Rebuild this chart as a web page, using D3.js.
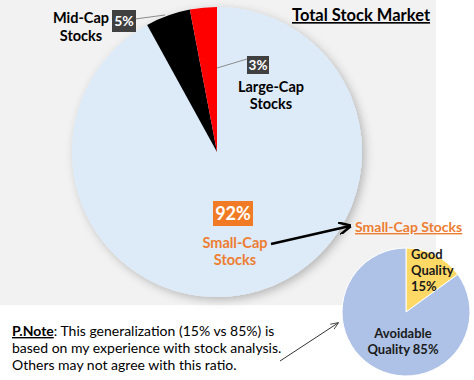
<!DOCTYPE html>
<html>
<head>
<meta charset="utf-8">
<script src="https://cdn.jsdelivr.net/npm/d3@7"></script>
<style>
  body { margin: 0; background: #fff; }
  svg { display: block; font-family: Lato, "Open Sans", sans-serif; }
</style>
</head>
<body>
<svg width="474" height="380"></svg>
<script>
// total market split
var capNames = ["Small-Cap", "Mid-Cap", "Large-Cap"]
var capValues = [92, 5, 3]
var capColors = ["#ddeaf7", "#000000", "#ff0000"]

// quality split inside small caps
var qualityNames = ["Good Quality", "Avoidable Quality"]
var qualityValues = [15, 85]
var qualityColors = ["#ffd966", "#adc2e6"]

var noteLines = [
    ": This generalization (15% vs 85%) is",
    "based on my experience with stock analysis.",
    "Others may not agree with this ratio."
]

var svg = d3.select("svg")
var defs = svg.append("defs")

defs.append("filter").attr("id", "shadow")
    .attr("x", "-20%").attr("y", "-20%").attr("width", "140%").attr("height", "140%")
    .append("feDropShadow")
    .attr("dx", 3).attr("dy", 3).attr("stdDeviation", 5)
    .attr("flood-color", "#000").attr("flood-opacity", 0.25)

defs.append("marker").attr("id", "head")
    .attr("viewBox", "0 0 10 10").attr("refX", 9).attr("refY", 5)
    .attr("markerWidth", 5).attr("markerHeight", 5)
    .attr("orient", "auto")
    .append("path").attr("d", "M0,0 L10,5 L0,10").attr("fill", "none")
    .attr("stroke", "#000").attr("stroke-width", 2)

defs.append("marker").attr("id", "thin")
    .attr("viewBox", "0 0 10 10").attr("refX", 9).attr("refY", 5)
    .attr("markerWidth", 8).attr("markerHeight", 8)
    .attr("orient", "auto")
    .append("path").attr("d", "M0,1 L10,5 L0,9").attr("fill", "none")
    .attr("stroke", "#333").attr("stroke-width", 1)

// grey panel behind the big pie
svg.append("rect").attr("x", 0).attr("y", 0).attr("width", 436).attr("height", 305)
    .attr("fill", "#f2f2f2")

var pie = d3.pie().sort(null).value(d => d)

// big pie
var bigR = 145
var big = svg.append("g").attr("transform", "translate(217,152)")
var bigArc = d3.arc().innerRadius(0).outerRadius(bigR)
big.append("circle").attr("r", bigR).attr("fill", "#ddeaf7").attr("filter", "url(#shadow)")
big.selectAll("path.slice")
    .data(pie(capValues))
    .enter()
    .append("path")
    .attr("class", "slice")
    .attr("d", bigArc)
    .attr("fill", (d, i) => capColors[i])

// title
svg.append("text").attr("x", 361).attr("y", 21).attr("text-anchor", "middle")
    .attr("font-size", 16.5).attr("font-weight", "bold").attr("text-decoration", "underline")
    .attr("fill", "#000").text("Total Stock Market")

function valueBox(x, y, w, h, fill, txt, size) {
    svg.append("rect").attr("x", x).attr("y", y).attr("width", w).attr("height", h).attr("fill", fill)
    svg.append("text").attr("x", x + w / 2).attr("y", y + h / 2).attr("dy", "0.36em")
        .attr("text-anchor", "middle").attr("font-size", size).attr("font-weight", "bold")
        .attr("fill", "#fff").text(txt)
}

var labelSize = 14.5

// mid-cap label
svg.append("line").attr("x1", 135).attr("y1", 19).attr("x2", 165).attr("y2", 15)
    .attr("stroke", "#8c8c8c").attr("stroke-width", 1)
valueBox(112, 10, 24, 22, "#404040", capValues[1] + "%", 14)
svg.append("text").attr("x", 81).attr("y", 23).attr("text-anchor", "middle")
    .attr("font-size", labelSize).attr("font-weight", "bold").text(capNames[1])
svg.append("text").attr("x", 81).attr("y", 41).attr("text-anchor", "middle")
    .attr("font-size", labelSize).attr("font-weight", "bold").text("Stocks")

// large-cap label
svg.append("line").attr("x1", 217).attr("y1", 68).attr("x2", 247).attr("y2", 59)
    .attr("stroke", "#8c8c8c").attr("stroke-width", 1)
valueBox(247, 56, 22, 18, "#404040", capValues[2] + "%", 13.5)
svg.append("text").attr("x", 271).attr("y", 92).attr("text-anchor", "middle")
    .attr("font-size", labelSize).attr("font-weight", "bold").text(capNames[2])
svg.append("text").attr("x", 271).attr("y", 109).attr("text-anchor", "middle")
    .attr("font-size", labelSize).attr("font-weight", "bold").text("Stocks")

// small-cap label
valueBox(213, 201, 40, 25, "#f07b24", capValues[0] + "%", 18)
svg.append("text").attr("x", 235).attr("y", 248).attr("text-anchor", "middle")
    .attr("font-size", labelSize).attr("font-weight", "bold").attr("fill", "#ed7d31").text(capNames[0])
svg.append("text").attr("x", 235).attr("y", 265).attr("text-anchor", "middle")
    .attr("font-size", labelSize).attr("font-weight", "bold").attr("fill", "#ed7d31").text("Stocks")

// arrow to the zoomed pie
svg.append("line").attr("x1", 271).attr("y1", 244).attr("x2", 350).attr("y2", 226)
    .attr("stroke", "#000").attr("stroke-width", 2.5).attr("marker-end", "url(#head)")
svg.append("text").attr("x", 355).attr("y", 232)
    .attr("font-size", 14).attr("font-weight", "bold").attr("fill", "#ed7d31")
    .attr("text-decoration", "underline").text("Small-Cap Stocks")

// small pie
var smallR = 64
var small = svg.append("g").attr("transform", "translate(406,312)")
var smallArc = d3.arc().innerRadius(0).outerRadius(smallR)
small.selectAll("path")
    .data(pie(qualityValues))
    .enter()
    .append("path")
    .attr("d", smallArc)
    .attr("fill", (d, i) => qualityColors[i])
    .attr("stroke", "#fff").attr("stroke-width", 1)

var goodLines = ["Good", "Quality", qualityValues[0] + "%"]
svg.append("g").selectAll("text").data(goodLines).enter().append("text")
    .attr("x", 411).attr("y", (d, i) => 259 + i * 16)
    .attr("font-size", 13).attr("font-weight", "bold").attr("fill", "#1a1a1a").text(d => d)
var badLines = ["Avoidable", "Quality " + qualityValues[1] + "%"]
svg.append("g").selectAll("text").data(badLines).enter().append("text")
    .attr("x", 403).attr("y", (d, i) => 338 + i * 16).attr("text-anchor", "middle")
    .attr("font-size", 13).attr("font-weight", "bold").attr("fill", "#1a1a1a").text(d => d)

// note
var note = svg.append("g").attr("font-size", 14).attr("fill", "#000")
var first = note.append("text").attr("x", 12).attr("y", 336)
first.append("tspan").attr("font-weight", "bold").attr("text-decoration", "underline").text("P.Note")
first.append("tspan").text(noteLines[0])
note.append("text").attr("x", 12).attr("y", 353).text(noteLines[1])
note.append("text").attr("x", 12).attr("y", 370).text(noteLines[2])

svg.append("line").attr("x1", 280).attr("y1", 361).attr("x2", 338).attr("y2", 323)
    .attr("stroke", "#333").attr("stroke-width", 1).attr("marker-end", "url(#thin)")
</script>
</body>
</html>
